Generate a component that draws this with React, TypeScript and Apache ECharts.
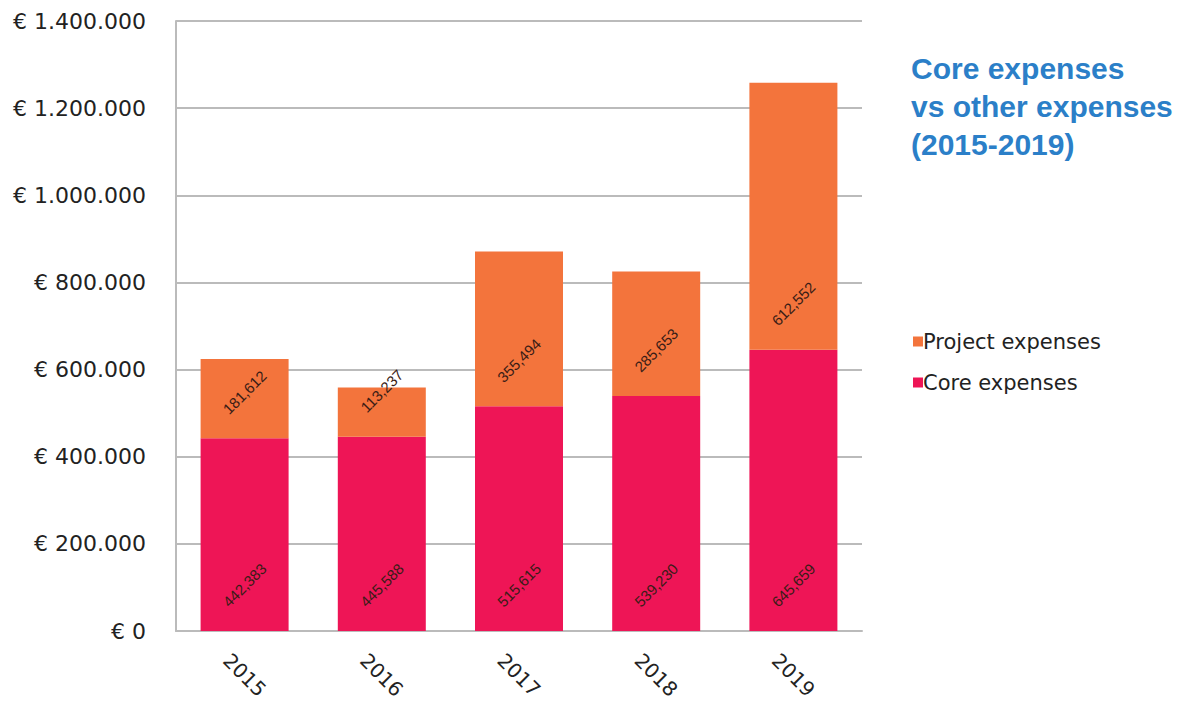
import React, { useEffect, useRef } from "react";
import * as echarts from "echarts";

const years = ["2015", "2016", "2017", "2018", "2019"];
const coreExpenses = [442383, 445588, 515615, 539230, 645659];
const projectExpenses = [181612, 113237, 355494, 285653, 612552];
const yTicks = [0, 200000, 400000, 600000, 800000, 1000000, 1200000, 1400000];

const fmtEuro = (v: number) =>
  "€ " + (v === 0 ? "0" : v.toLocaleString("de-DE"));
const fmtLabel = (v: number) => v.toLocaleString("en-US");

export default function App() {
  const ref = useRef<HTMLDivElement>(null);
  useEffect(() => {
    if (!ref.current) return;
    const chart = echarts.init(ref.current, null, { renderer: "svg" });
    const dataLabel = {
      show: true,
      position: "insideBottom" as const,
      distance: 46,
      rotate: 45,
      align: "center",
      verticalAlign: "middle",
      fontFamily: "Liberation Sans",
      fontSize: 15,
      color: "#3a1c16",
      formatter: (p: any) => fmtLabel(p.value),
    };
    chart.setOption({
      animation: false,
      backgroundColor: "#ffffff",
      title: {
        text: "Core expenses\nvs other expenses\n(2015-2019)",
        left: 906,
        top: 44,
        textStyle: {
          fontFamily: "Liberation Sans",
          fontWeight: "bold",
          fontSize: 30,
          lineHeight: 38,
          color: "#2b7fc8",
        },
      },
      legend: {
        orient: "vertical",
        left: 908,
        top: 326,
        itemWidth: 10,
        itemHeight: 10,
        itemGap: 20,
        icon: "rect",
        data: ["Project expenses", "Core expenses"],
        textStyle: {
          fontFamily: "DejaVu Sans",
          fontSize: 21,
          color: "#222",
          padding: [0, 0, 0, -5],
        },
      },
      grid: { left: 176, right: 322, top: 21, bottom: 75 },
      xAxis: {
        type: "category",
        data: years,
        axisLine: { lineStyle: { color: "#bbbbbb", width: 2 } },
        axisTick: { show: false },
        axisLabel: {
          rotate: -45,
          align: "center",
          verticalAlign: "middle",
          margin: 44,
          fontFamily: "DejaVu Sans",
          fontSize: 20,
          color: "#222",
        },
      },
      yAxis: {
        type: "value",
        min: 0,
        max: 1400000,
        interval: 200000,
        axisLine: { show: true, lineStyle: { color: "#bbbbbb", width: 2 } },
        axisTick: { show: false },
        splitLine: { lineStyle: { color: "#bbbbbb", width: 2 } },
        axisLabel: {
          margin: 30,
          fontFamily: "DejaVu Sans",
          fontSize: 22,
          color: "#222",
          formatter: (v: number) => (yTicks.includes(v) ? fmtEuro(v) : ""),
        },
      },
      series: [
        {
          name: "Core expenses",
          type: "bar",
          stack: "total",
          data: coreExpenses,
          barWidth: 88,
          itemStyle: { color: "#ee1556" },
          label: dataLabel,
        },
        {
          name: "Project expenses",
          type: "bar",
          stack: "total",
          data: projectExpenses,
          barWidth: 88,
          itemStyle: { color: "#f3743c" },
          label: dataLabel,
        },
      ],
    });
    return () => chart.dispose();
  }, []);
  return (
    <div
      ref={ref}
      style={{ position: "fixed", left: 0, top: 0, width: 1184, height: 706 }}
    />
  );
}
